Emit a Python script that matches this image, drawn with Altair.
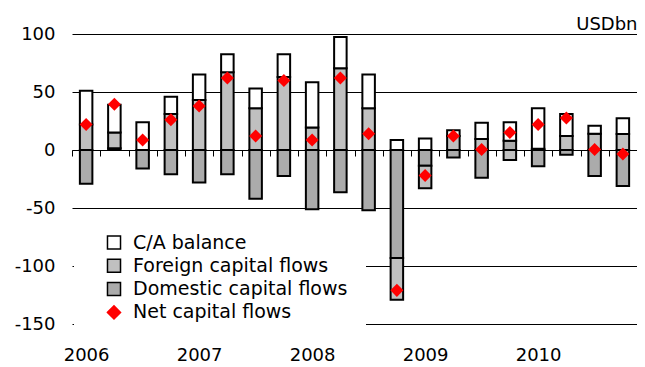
import altair as alt
import pandas as pd

# ---- data (USD bn, quarterly 2006Q1 - 2010Q4) ----
quarters = [
    "2006 Q1", "2006 Q2", "2006 Q3", "2006 Q4",
    "2007 Q1", "2007 Q2", "2007 Q3", "2007 Q4",
    "2008 Q1", "2008 Q2", "2008 Q3", "2008 Q4",
    "2009 Q1", "2009 Q2", "2009 Q3", "2009 Q4",
    "2010 Q1", "2010 Q2", "2010 Q3", "2010 Q4",
]
ca_balance = [29, 24, 24, 15, 22, 15.5, 17, 19.5, 39, 27, 29, 8.6,
              10, 5, 14, 16, 35, 19, 7, 13.5]
foreign_flows = [22, 13.5, 0, 31, 43, 67, 36, 63, 19.3, 70.4, 36, -36,
                 -19.5, 12, 9.5, -8.6, 1, 12, 14, 13.8]
domestic_flows = [-29, 1.5, -16, -21, -28, -21, -42, -22.4, -51, -36.5, -52, -93,
                  -13.5, -6.5, -24, 8, -14, -4, -22.4, -31]
net_flows = [22, 39.5, 8.6, 26, 38, 62, 12, 60, 8.6, 62, 14, -121,
             -22, 12, 0.5, 15, 22, 27.5, 0.5, -3.5]
y_ticks = [-150, -100, -50, 0, 50, 100]

series_names = ["C/A balance", "Foreign capital flows",
                "Domestic capital flows", "Net capital flows"]
fill_colors = ["#ffffff", "#c0c0c0", "#ababab", "#ff0000"]
stroke_colors = ["#000000", "#000000", "#000000", "#ff0000"]
shapes = ["square", "square", "square", "diamond"]

rows = []
for i, q in enumerate(quarters):
    rows.append({"quarter": q, "series": "Domestic capital flows", "value": domestic_flows[i], "ord": 0})
    rows.append({"quarter": q, "series": "Foreign capital flows", "value": foreign_flows[i], "ord": 1})
    rows.append({"quarter": q, "series": "C/A balance", "value": ca_balance[i], "ord": 2})
df_bars = pd.DataFrame(rows)
df_net = pd.DataFrame({"quarter": quarters, "value": net_flows,
                       "series": ["Net capital flows"] * len(quarters)})

FONT = "DejaVu Sans"

x_enc = alt.X(
    "quarter:N", sort=quarters,
    scale=alt.Scale(paddingInner=0, paddingOuter=0),
    axis=alt.Axis(
        title=None, offset=-174, domain=True, domainColor="black", domainWidth=1,
        ticks=True, tickSize=6, tickColor="black", tickWidth=1, tickBand="extent",
        labelAngle=0, labelPadding=190, labelFont=FONT, labelFontSize=18,
        labelColor="black", grid=False,
        labelExpr="indexof(datum.label, 'Q1') > 0 ? slice(datum.label, 0, 4) : ''",
    ),
)

y_enc = alt.Y(
    "value:Q", stack="zero",
    scale=alt.Scale(domain=[-150, 100], nice=False, zero=True),
    axis=alt.Axis(
        values=y_ticks, grid=True, gridColor="black",
        gridWidth=1, gridOpacity=1, domain=False, ticks=False, labelPadding=17,
        labelFont=FONT, labelFontSize=18, labelColor="black",
        labelExpr="datum.value < 0 ? '-' + abs(datum.value) : '' + datum.value",
        title="USDbn", titleAngle=0, titleX=565, titleY=-5, titleAlign="right",
        titleBaseline="alphabetic", titleFont=FONT, titleFontSize=18,
        titleFontWeight="normal", titleColor="black",
    ),
)

legend = alt.Legend(
    title=None, orient="none", legendX=2, legendY=181,
    fillColor="white", padding=18, symbolOffset=12.5,
    symbolSize=170, symbolStrokeWidth=1.5, labelFont=FONT, labelFontSize=19,
    labelColor="black", labelOffset=9.5, rowPadding=2.3, labelLimit=400,
)

fill_enc = alt.Fill("series:N", scale=alt.Scale(domain=series_names, range=fill_colors),
                    legend=legend)
stroke_enc = alt.Stroke("series:N", scale=alt.Scale(domain=series_names, range=stroke_colors),
                        legend=legend)
shape_enc = alt.Shape("series:N", scale=alt.Scale(domain=series_names, range=shapes),
                      legend=legend)

bars = alt.Chart(df_bars).mark_bar(width=12.5, strokeWidth=2).encode(
    x=x_enc,
    y=y_enc,
    fill=fill_enc,
    stroke=stroke_enc,
    order=alt.Order("ord:Q", sort="ascending"),
)

points = alt.Chart(df_net).mark_point(
    filled=True, size=170, opacity=1, strokeWidth=0
).encode(
    x=alt.X("quarter:N", sort=quarters),
    y=alt.Y("value:Q"),
    fill=fill_enc,
    stroke=stroke_enc,
    shape=shape_enc,
)

chart = alt.layer(bars, points).properties(
    width=565, height=290,
    autosize=alt.AutoSizeParams(type="none"),
    padding={"left": 64, "top": 26, "right": 0, "bottom": 40},
    background="white",
).configure_view(stroke=None)

chart.save("out.html", embed_options={"renderer": "svg", "actions": False})
